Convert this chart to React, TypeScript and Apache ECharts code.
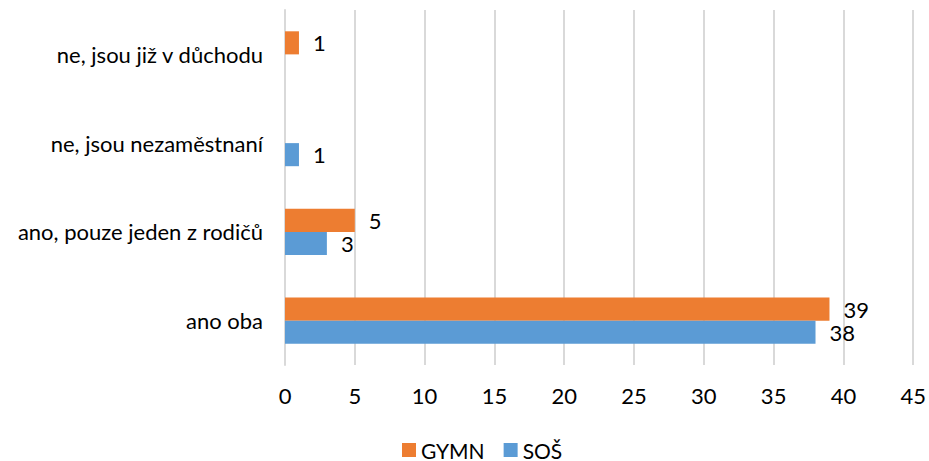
import React, { useEffect, useRef } from "react";
import * as echarts from "echarts";

const categories = ["ano oba", "ano, pouze jeden z rodičů", "ne, jsou nezaměstnaní", "ne, jsou již v důchodu"];
const gymn: (number | null)[] = [39, 5, null, 1];
const sos: (number | null)[] = [38, 3, 1, null];
const xTicks = { min: 0, max: 45, interval: 5 };

const FONT = "Lato";
const FS = 22;

export default function App() {
  const ref = useRef<HTMLDivElement>(null);
  useEffect(() => {
    if (!ref.current) return;
    const chart = echarts.init(ref.current, null, { renderer: "svg" });
    const label = {
      show: true,
      position: "right" as const,
      distance: 14,
      color: "#000",
      fontSize: FS,
      fontFamily: FONT,
    };
    chart.setOption({
      animation: false,
      textStyle: { fontFamily: FONT },
      grid: { left: 285, right: 15, top: 10, bottom: 96, containLabel: false },
      legend: {
        data: ["GYMN", "SOŠ"],
        top: 439,
        left: 402,
        padding: 0,
        icon: "rect",
        itemWidth: 14,
        itemHeight: 14,
        itemGap: 19,
        itemTextGap: 5,
        textStyle: { fontSize: 21, lineHeight: 22, color: "#000", fontFamily: FONT },
      },
      xAxis: {
        type: "value",
        min: xTicks.min,
        max: xTicks.max,
        interval: xTicks.interval,
        axisLine: { show: false },
        axisTick: { show: false },
        splitLine: { show: true, lineStyle: { color: "#D9D9D9", width: 2 } },
        axisLabel: { fontSize: FS, color: "#000", margin: 19, fontFamily: FONT },
      },
      yAxis: {
        type: "category",
        data: categories,
        axisLine: { show: true, lineStyle: { color: "#D9D9D9", width: 2 } },
        axisTick: { show: false },
        axisLabel: { fontSize: FS, color: "#000", margin: 22, fontFamily: FONT },
      },
      series: [
        {
          name: "GYMN",
          type: "bar",
          data: gymn,
          itemStyle: { color: "#ED7D31" },
          barGap: "0%",
          barCategoryGap: "48%",
          label,
        },
        {
          name: "SOŠ",
          type: "bar",
          data: sos,
          itemStyle: { color: "#5B9BD5" },
          barGap: "0%",
          barCategoryGap: "48%",
          label,
        },
      ],
    });
    return () => chart.dispose();
  }, []);
  return <div ref={ref} style={{ width: 929, height: 461, position: "absolute", left: 0, top: 0 }} />;
}
